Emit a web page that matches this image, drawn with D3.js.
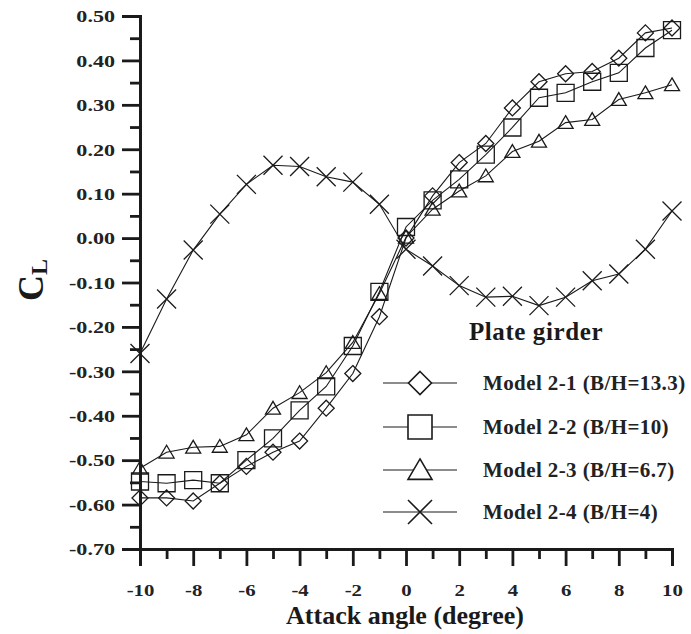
<!DOCTYPE html>
<html><head><meta charset="utf-8">
<script src="https://cdn.jsdelivr.net/npm/d3@7"></script>
<style>body{margin:0;background:#fff}</style>
</head><body>
<svg id="c" width="691" height="634"></svg>
<script>
const angles = [-10,-9,-8,-7,-6,-5,-4,-3,-2,-1,0,1,2,3,4,5,6,7,8,9,10];
const model21 = [-0.585,-0.585,-0.592,-0.552,-0.514,-0.482,-0.457,-0.383,-0.305,-0.177,0.0,0.095,0.17,0.213,0.293,0.352,0.37,0.375,0.405,0.462,0.473];
const model22 = [-0.548,-0.552,-0.545,-0.552,-0.5,-0.451,-0.388,-0.334,-0.243,-0.121,0.025,0.085,0.132,0.188,0.249,0.316,0.327,0.352,0.372,0.428,0.468];
const model23 = [-0.518,-0.482,-0.471,-0.469,-0.443,-0.383,-0.348,-0.303,-0.235,-0.125,0.002,0.065,0.106,0.14,0.195,0.218,0.26,0.267,0.312,0.327,0.345];
const model24 = [-0.26,-0.137,-0.027,0.054,0.121,0.164,0.161,0.138,0.126,0.076,-0.025,-0.063,-0.107,-0.133,-0.131,-0.152,-0.133,-0.096,-0.081,-0.025,0.061];
const seriesNames = ["Model 2-1 (B/H=13.3)","Model 2-2 (B/H=10)","Model 2-3 (B/H=6.7)","Model 2-4 (B/H=4)"];
const seriesShapes = ["diamond","square","triangle","cross"];
const xTicks = [-10,-8,-6,-4,-2,0,2,4,6,8,10];
const yTicks = [0.5,0.4,0.3,0.2,0.1,0,-0.1,-0.2,-0.3,-0.4,-0.5,-0.6,-0.7];
const legendTitle = "Plate girder";

const svg = d3.select("#c");
const font = "'Liberation Serif','Times New Roman',serif";
const ink = "#1a1a1a";
const x = d3.scaleLinear().domain([-10,10]).range([140,672]);
const y = d3.scaleLinear().domain([-0.7,0.5]).range([549,16]);
const hy = s => s.replace("\u2212","-");

function shapePath(shape, s){
  const h=s/2;
  if(shape==="diamond") return `M0,${-h}L${h},0L0,${h}L${-h},0Z`;
  if(shape==="square") return `M${-h},${-h}H${h}V${h}H${-h}Z`;
  if(shape==="triangle"){const t=h*0.92;return `M0,${-t}L${h},${t*0.85}L${-h},${t*0.85}Z`;}
  return `M${-h},${-h}L${h},${h}M${h},${-h}L${-h},${h}`;
}
const plotSize = {diamond:16,square:17,triangle:15,cross:19};
const legSize = {diamond:23,square:24,triangle:24,cross:24};

const allSeries = [model21,model22,model23,model24];
const line = d3.line().x((d,i)=>x(angles[i])).y(d=>y(d));
const plot = svg.append("g");
allSeries.forEach((vals,k)=>{
  plot.append("path").attr("d",line(vals)).attr("fill","none").attr("stroke",ink).attr("stroke-width",1.1);
});
allSeries.forEach((vals,k)=>{
  plot.selectAll(null).data(vals).enter().append("path")
    .attr("transform",(d,i)=>`translate(${x(angles[i])},${y(d)})`)
    .attr("d",shapePath(seriesShapes[k],plotSize[seriesShapes[k]]))
    .attr("fill","none").attr("stroke",ink).attr("stroke-width",1.3);
});

// axes
const sx = 1.3;
const yMinor = d3.range(-0.65,0.5,0.1);
const gy = svg.append("g").attr("transform","translate(140,0)");
gy.call(d3.axisLeft(y).tickValues(yTicks).tickFormat(d=>hy(d3.format(".2f")(d))).tickSize(18).tickPadding(7));
gy.append("g").call(d3.axisLeft(y).tickValues(yMinor).tickFormat("").tickSize(10));
gy.selectAll(".domain").attr("stroke",ink).attr("stroke-width",2.8);
gy.selectAll(".tick line").attr("stroke",ink).attr("stroke-width",2.8);
gy.selectAll(".tick text").attr("font-family",font).attr("font-weight","bold").attr("font-size",17).attr("fill","#222")
  .attr("transform",`scale(${sx},1)`).attr("x",-25/sx).attr("dy","0.34em");

const gx = svg.append("g").attr("transform","translate(0,549)");
gx.call(d3.axisBottom(x).tickValues(xTicks).tickFormat(d=>hy(d3.format("d")(d))).tickSize(17).tickPadding(13));
gx.append("g").call(d3.axisBottom(x).tickValues(d3.range(-9,10,2)).tickFormat("").tickSize(10));
gx.selectAll(".domain").attr("stroke",ink).attr("stroke-width",2.8);
gx.selectAll(".tick line").attr("stroke",ink).attr("stroke-width",2.8);
gx.selectAll(".tick text").attr("font-family",font).attr("font-weight","bold").attr("font-size",16).attr("fill","#222")
  .attr("transform",`scale(${sx},1)`).attr("x",0).attr("y",47).attr("dy",0);

svg.append("text").attr("x",405).attr("y",624).attr("text-anchor","middle")
  .attr("font-family",font).attr("font-weight","bold").attr("font-size",26).attr("fill",ink)
  .text("Attack angle (degree)");
const yt = svg.append("text").attr("transform","translate(43,280) rotate(-90)").attr("text-anchor","middle")
  .attr("font-family",font).attr("font-weight","bold").attr("font-size",36).attr("fill",ink);
yt.append("tspan").text("C");
yt.append("tspan").attr("font-size",24).attr("dy",4).text("L");

// legend
svg.append("text").attr("x",536).attr("y",340).attr("text-anchor","middle")
  .attr("font-family",font).attr("font-weight","bold").attr("font-size",25).attr("letter-spacing",0.6).attr("fill",ink).text(legendTitle);
const legY = [383,427,470,512];
seriesNames.forEach((nm,k)=>{
  const g = svg.append("g").attr("transform",`translate(0,${legY[k]})`);
  g.append("line").attr("x1",383).attr("x2",457).attr("y1",0).attr("y2",0).attr("stroke",ink).attr("stroke-width",1.2);
  g.append("path").attr("transform","translate(420,0)").attr("d",shapePath(seriesShapes[k],legSize[seriesShapes[k]]))
    .attr("fill",seriesShapes[k]==="cross"?"none":"#fff").attr("stroke",ink).attr("stroke-width",1.6);
  g.append("text").attr("x",483).attr("y",7).attr("font-family",font).attr("font-weight","bold")
    .attr("font-size",21).attr("letter-spacing",0.4).attr("fill","#222").text(nm);
});
</script>
</body></html>
